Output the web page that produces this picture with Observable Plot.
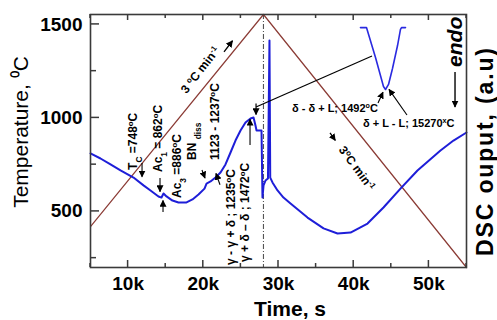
<!DOCTYPE html>
<html><head><meta charset="utf-8">
<script src="https://cdn.jsdelivr.net/npm/d3@7"></script>
<script src="https://cdn.jsdelivr.net/npm/@observablehq/plot@0.6"></script>
<style>body{margin:0;background:#fff;} svg{display:block}</style>
</head><body><div id="chart"></div>
<script>
// Temperature programme (left axis, °C)
const rampTime = [5000, 28000, 55000];
const rampTemp = [419, 1553, 200];
// DSC signal (drawn in the same vertical units, a.u.)
const dscTime = [5000,6330,7660,8990,10720,12050,12980,14040,14440,14710,15110,15900,16700,17770,18560,19360,20160,20430,20960,21620,22290,22950,23620,24280,24950,25610,26280,26680,26940,27080,27740,27870,28010,28270,28600,28800,28900,29200,29870,30660,31600,33860,35990,37850,39580,41840,43960,46220,48480,51540,53270,55000];
const dscValue = [810,783,751,719,681,639,612,580,574,596,580,558,548,548,564,590,622,649,660,681,708,751,815,879,933,975,997,1002,959,933,933,574,639,665,676,1414,681,655,612,574,542,467,409,382,387,435,521,622,719,826,879,922];
// Inset: melting peak detail
const insetTime = [40900,41700,42900,43960,44230,44630,45160,45830,46220,46360,46890];
const insetValue = [1483,1483,1323,1168,1152,1179,1264,1387,1473,1483,1483];
// Ticks
const xTicks = [10000,20000,30000,40000,50000];
const xTickLabels = ["10k","20k","30k","40k","50k"];
const xMinor = [5000,15000,25000,35000,45000,55000];
const yTicks = [500,1000,1500];
const yTickLabels = ["500","1000","1500"];
const yMinor = [250,750,1250];
const markerTime = 28000;

const ramp = rampTime.map((t,i)=>({t, v: rampTemp[i]}));
const dsc = dscTime.map((t,i)=>({t, v: dscValue[i]}));
const inset = insetTime.map((t,i)=>({t, v: insetValue[i]}));

const FONT = "'Liberation Sans', Arial, Helvetica, sans-serif";
const plot = Plot.plot({
  width: 497, height: 320,
  marginLeft: 90, marginRight: 31, marginTop: 14, marginBottom: 53,
  style: {fontFamily: FONT, background: "#fff", color: "#000"},
  x: {domain: [5000, 55000]},
  y: {domain: [200, 1553]},
  marks: [
    Plot.ruleX([markerTime], {stroke: "#555", strokeWidth: 1.1, strokeDasharray: "5,2,1,2"}),
    Plot.line(ramp, {x: "t", y: "v", stroke: "#8b3b35", strokeWidth: 1.2}),
    Plot.line(dsc, {x: "t", y: "v", stroke: "#1e1ed8", strokeWidth: 2}),
    Plot.line(inset, {x: "t", y: "v", stroke: "#2a2ae0", strokeWidth: 1.6}),
    Plot.frame({stroke: "#3a3a3a", strokeWidth: 1.6}),
    Plot.axisX(xTicks, {tickSize: 0, tickPadding: 9, fontSize: 19, fontWeight: "bold", label: null,
      tickFormat: d => xTickLabels[xTicks.indexOf(d)]}),
    Plot.axisY(yTicks, {tickSize: 0, tickPadding: 8, fontSize: 19, fontWeight: "bold", label: null,
      tickFormat: d => yTickLabels[yTicks.indexOf(d)]})
  ]
});
document.getElementById("chart").appendChild(plot);

const svg = d3.select(plot);
const X = plot.scale("x").apply, Y = plot.scale("y").apply;
const [x0, x1] = [X(5000), X(55000)];
const [yb, yt] = [Y(200), Y(1553)];

// inward ticks
const tk = svg.append("g").attr("stroke", "#3a3a3a").attr("stroke-width", 1.5);
xTicks.forEach(d => { tk.append("line").attr("x1", X(d)).attr("x2", X(d)).attr("y1", yb).attr("y2", yb - 7);
                      tk.append("line").attr("x1", X(d)).attr("x2", X(d)).attr("y1", yt).attr("y2", yt + 6); });
xMinor.forEach(d => { tk.append("line").attr("x1", X(d)).attr("x2", X(d)).attr("y1", yb).attr("y2", yb - 4);
                      tk.append("line").attr("x1", X(d)).attr("x2", X(d)).attr("y1", yt).attr("y2", yt + 4); });
yTicks.forEach(d => tk.append("line").attr("x1", x0).attr("x2", x0 + 9).attr("y1", Y(d)).attr("y2", Y(d)));
yMinor.forEach(d => tk.append("line").attr("x1", x0).attr("x2", x0 + 6).attr("y1", Y(d)).attr("y2", Y(d)));

// arrow marker
const defs = svg.append("defs");
defs.append("marker").attr("id", "ah").attr("viewBox", "0 0 10 10").attr("refX", 9).attr("refY", 5)
  .attr("markerWidth", 7).attr("markerHeight", 7).attr("markerUnits", "userSpaceOnUse").attr("orient", "auto")
  .append("path").attr("d", "M0,0 L10,5 L0,10 z").attr("fill", "#000");

function arrow(t1, v1, t2, v2, w = 1.1) {
  svg.append("line").attr("x1", X(t1)).attr("y1", Y(v1)).attr("x2", X(t2)).attr("y2", Y(v2))
    .attr("stroke", "#000").attr("stroke-width", w).attr("marker-end", "url(#ah)");
}
function rich(t, v, parts, {rotate = -90, anchor = "start", size = 12, weight = "bold", style = "normal", fill = "#000"} = {}) {
  const g = svg.append("g").attr("transform", `translate(${X(t)},${Y(v)}) rotate(${rotate})`);
  const tx = g.append("text").attr("text-anchor", anchor).attr("dy", "0.35em")
    .attr("font-size", size).attr("font-weight", weight).attr("font-style", style).attr("fill", fill)
    .attr("font-family", FONT);
  parts.forEach(p => {
    const s = typeof p === "string" ? [p, ""] : p;
    const ts = tx.append("tspan").text(s[0]);
    if (s[1] === "sub") ts.attr("baseline-shift", "sub").attr("font-size", "70%");
    if (s[1] === "sup") ts.attr("baseline-shift", "super").attr("font-size", "65%");
  });
  return tx;
}

// zoom connector
svg.append("line").attr("x1", X(27080)).attr("y1", Y(1056)).attr("x2", X(42500)).attr("y2", Y(1328))
  .attr("stroke", "#000").attr("stroke-width", 1.2);
arrow(27080, 1075, 27080, 1015, 1.2);

// annotations
rich(10720, 719, ["T", ["C", "sub"], " =748", ["o", "sup"], "C"]);
rich(14040, 708, ["Ac", ["1", "sub"], " = 862", ["o", "sup"], "C"]);
rich(16570, 569, ["Ac", ["3", "sub"], " =886", ["o", "sup"], "C"]);
rich(18560, 772, ["BN ", ["diss", "sub"]]);
rich(21620, 772, ["1123 - 1237", ["o", "sup"], "C"]);
rich(23750, 211, ["γ - γ + δ ; 1235", ["o", "sup"], "C"]);
rich(25610, 227, ["γ + δ – δ ; 1472", ["o", "sup"], "C"]);
arrow(26280, 852, 26280, 990, 1.1);

arrow(11920, 756, 11920, 682);
arrow(14310, 676, 14310, 603);
arrow(14710, 494, 14710, 556);
arrow(19890, 719, 20290, 676);
arrow(22290, 640, 21750, 700);

rich(19630, 1254, ["3 ", ["o", "sup"], "C min", ["-1", "sup"]], {rotate: -52, anchor: "middle", size: 12});
arrow(22820, 1350, 23950, 1410, 1.3);
rich(40500, 729, ["3", ["o", "sup"], "C min", ["-1", "sup"]], {rotate: 54, anchor: "middle", size: 12});
arrow(36920, 917, 37620, 877, 1.3);

rich(31860, 1050, ["δ - δ + L; 1492", ["o", "sup"], "C"], {rotate: 0, size: 11});
arrow(43300, 1077, 43960, 1135);
rich(41300, 970, ["δ + L - L; 15270", ["x", "sup"], "C"], {rotate: 0, size: 11});
arrow(47150, 1013, 44760, 1150);

rich(53540, 1270, ["endo"], {size: 21, style: "italic"});
arrow(53540, 1243, 53540, 1056, 1.4);

// axis titles
svg.append("text").attr("x", (x0 + x1) / 2 + 12).attr("y", 309).attr("text-anchor", "middle")
  .attr("font-size", 21).attr("font-weight", "bold").attr("font-family", FONT).attr("dy", "0.35em").text("Time, s");
svg.append("text").attr("transform", "translate(21,132) rotate(-90)").attr("text-anchor", "middle")
  .attr("font-size", 21).attr("font-family", FONT).attr("dy", "0.35em").text("Temperature, ⁰C");
svg.append("text").attr("transform", "translate(485,152) rotate(-90)").attr("text-anchor", "middle")
  .attr("font-size", 23).attr("font-weight", "bold").attr("font-family", FONT).attr("dy", "0.35em")
  .attr("textLength", 208).attr("lengthAdjust", "spacing").text("DSC ouput, (a.u)");
</script>
</body></html>
